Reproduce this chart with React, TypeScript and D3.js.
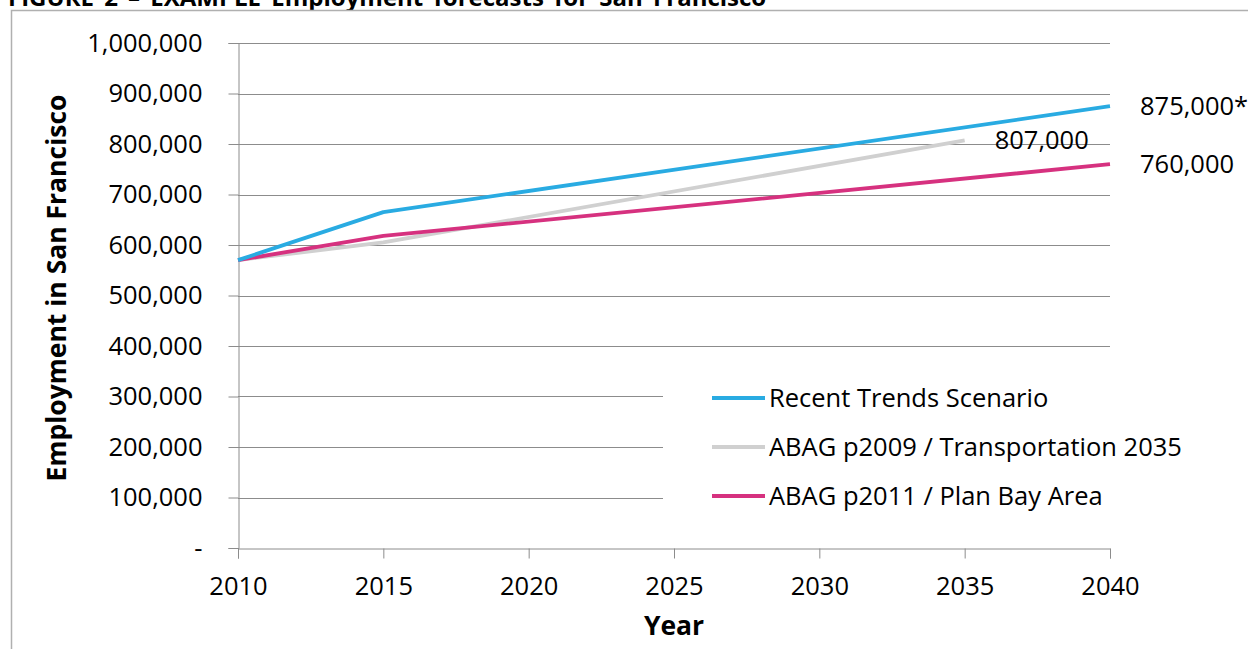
import React, { useEffect, useRef } from 'react';
import * as d3 from 'd3';

// Years and employment values
const recentYears = [2010, 2015, 2040];
const recentValues = [570000, 665000, 875000];
const p2009Years = [2010, 2015, 2035];
const p2009Values = [570000, 605000, 807000];
const p2011Years = [2010, 2015, 2040];
const p2011Values = [570000, 618000, 760000];

const xTicks = [2010, 2015, 2020, 2025, 2030, 2035, 2040];
const yTicks = [0, 100000, 200000, 300000, 400000, 500000, 600000, 700000, 800000, 900000, 1000000];

const seriesNames = ['Recent Trends Scenario', 'ABAG p2009 / Transportation 2035', 'ABAG p2011 / Plan Bay Area'];
const seriesColors = ['#29abe2', '#d0d0d0', '#d6317f'];
const endLabels = ['875,000*', '807,000', '760,000'];

const FONT = '"Open Sans", sans-serif';
const FS = '25.5px';
const FS_BOLD = '26.5px';

const App = () => {
  const svgRef = useRef<SVGSVGElement | null>(null);

  useEffect(() => {
    if (!svgRef.current) return;
    const svg = d3.select(svgRef.current);
    svg.selectAll('*').remove();

    const W = 1248;
    const H = 649;
    const margin = { top: 43, left: 238, right: 138, bottom: 101 };

    // Title, mostly cut off by the top of the page (as in the source)
    svg.append('text')
      .attr('x', 8)
      .attr('y', 6)
      .style('font-family', FONT)
      .style('font-weight', 'bold')
      .style('font-size', '24px')
      .style('word-spacing', '4px')
      .text('FIGURE 2 – EXAMPLE Employment forecasts for San Francisco');

    // Chart frame
    svg.append('rect')
      .attr('x', 11.5)
      .attr('y', 10.5)
      .attr('width', W + 20)
      .attr('height', H + 20)
      .attr('fill', 'white')
      .attr('stroke', '#b0b0b0')
      .attr('stroke-width', 1.5);

    const x = d3.scaleLinear().domain([2010, 2040]).range([margin.left, W - margin.right]);
    const y = d3.scaleLinear().domain([0, 1000000]).range([H - margin.bottom, margin.top]);

    const g = svg.append('g');

    // Gridlines
    g.selectAll('line.grid')
      .data(yTicks.filter(d => d > 0))
      .join('line')
      .attr('class', 'grid')
      .attr('x1', x(2010))
      .attr('x2', x(2040))
      .attr('y1', d => Math.round(y(d)) + 0.5)
      .attr('y2', d => Math.round(y(d)) + 0.5)
      .attr('stroke', '#8c8c8c')
      .attr('stroke-width', 1);

    // Y axis
    const yAxis = d3.axisLeft(y)
      .tickValues(yTicks)
      .tickSize(10)
      .tickPadding(26)
      .tickFormat(d => (+d === 0 ? '-' : d3.format(',')(+d)));
    const ya = g.append('g')
      .attr('transform', `translate(${Math.round(x(2010)) + 0.5},0)`)
      .call(yAxis);
    ya.selectAll('path,line').attr('stroke', '#8c8c8c');
    ya.selectAll('text')
      .style('font-family', FONT)
      .style('font-size', FS)
      .attr('fill', '#000');

    // X axis
    const xAxis = d3.axisBottom(x)
      .tickValues(xTicks)
      .tickSize(10)
      .tickPadding(18)
      .tickFormat(d => String(d));
    const xa = g.append('g')
      .attr('transform', `translate(0,${Math.round(y(0)) + 0.5})`)
      .call(xAxis);
    xa.selectAll('path,line').attr('stroke', '#8c8c8c');
    xa.selectAll('text')
      .style('font-family', FONT)
      .style('font-size', FS)
      .attr('fill', '#000');

    // Axis titles
    svg.append('text')
      .attr('transform', `translate(66,288) rotate(-90)`)
      .attr('text-anchor', 'middle')
      .style('font-family', FONT)
      .style('font-weight', 'bold')
      .style('font-size', FS_BOLD)
      .text('Employment in San Francisco');

    svg.append('text')
      .attr('x', (x(2010) + x(2040)) / 2)
      .attr('y', 635)
      .attr('text-anchor', 'middle')
      .style('font-family', FONT)
      .style('font-weight', 'bold')
      .style('font-size', FS_BOLD)
      .text('Year');

    // Legend background covers gridlines
    const legend = svg.append('g');
    legend.append('rect')
      .attr('x', 663)
      .attr('y', 372)
      .attr('width', 540)
      .attr('height', 150)
      .attr('fill', 'white');

    const series = [
      recentYears.map((yr, i) => ({ year: yr, value: recentValues[i] })),
      p2009Years.map((yr, i) => ({ year: yr, value: p2009Values[i] })),
      p2011Years.map((yr, i) => ({ year: yr, value: p2011Values[i] })),
    ];

    const line = d3.line<{ year: number; value: number }>()
      .x(d => x(d.year))
      .y(d => y(d.value));

    // Draw gray first, then pink, then blue on top
    [1, 2, 0].forEach(i => {
      svg.append('path')
        .datum(series[i])
        .attr('fill', 'none')
        .attr('stroke', seriesColors[i])
        .attr('stroke-width', 3.8)
        .attr('stroke-linejoin', 'round')
        .attr('d', line);
    });

    // Legend entries
    seriesNames.forEach((name, i) => {
      const ly = 398 + i * 49;
      legend.append('line')
        .attr('x1', 712)
        .attr('x2', 765)
        .attr('y1', ly)
        .attr('y2', ly)
        .attr('stroke', seriesColors[i])
        .attr('stroke-width', 3.8);
      legend.append('text')
        .attr('x', 769)
        .attr('y', ly)
        .attr('dy', '0.35em')
        .style('font-family', FONT)
        .style('font-size', FS)
        .text(name);
    });

    // End-of-line value labels
    const lastPts = series.map(s => s[s.length - 1]);
    lastPts.forEach((p, i) => {
      svg.append('text')
        .attr('x', x(p.year) + 30)
        .attr('y', y(p.value))
        .attr('dy', '0.35em')
        .style('font-family', FONT)
        .style('font-size', FS)
        .text(endLabels[i]);
    });
  }, []);

  return (
    <svg
      ref={svgRef}
      width={1248}
      height={649}
      style={{ position: 'absolute', left: 0, top: 0, background: 'white' }}
    />
  );
};

export default App;
